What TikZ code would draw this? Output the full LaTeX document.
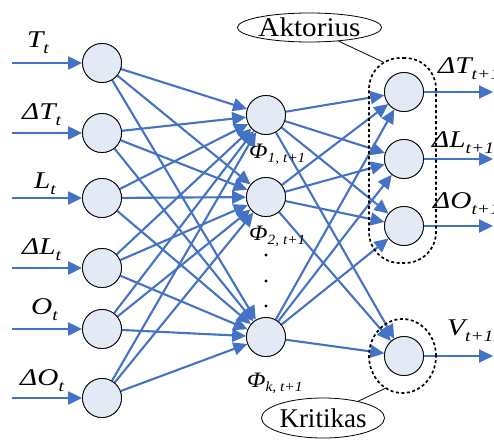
\documentclass[tikz,border=0pt]{standalone}
\usepackage{fontspec}
\setmainfont{Liberation Serif}
\usetikzlibrary{arrows.meta,shapes.geometric}
\definecolor{nnblue}{RGB}{68,114,196}
\definecolor{nnfill}{RGB}{228,234,245}
\newcommand{\sbig}[1]{\raisebox{-6pt}{\fontsize{16}{16}\selectfont #1}}
\newcommand{\ssmall}[1]{\raisebox{-4pt}{\fontsize{14}{14}\selectfont #1}}
\newcommand{\wide}[1]{\scalebox{1.22}[1]{#1}}
\begin{document}
\begin{tikzpicture}[x=1pt,y=-1pt,
  neuron/.style={circle, draw=black, line width=0.8pt, fill=nnfill, minimum size=39pt, inner sep=0pt},
  conn/.style={nnblue, line width=2.1pt, -{Triangle[length=14pt,width=13pt]}},
  lab/.style={anchor=base west, inner sep=0pt, font=\fontsize{24}{26}\selectfont\itshape},
  phil/.style={anchor=base west, inner sep=0pt, font=\fontsize{22}{24}\selectfont\itshape},
  bubble/.style={ellipse, draw=black, line width=0.8pt, inner sep=0pt, font=\fontsize{27}{29}\selectfont},
  grp/.style={draw=black, line width=1.7pt, dash pattern=on 3pt off 2.5pt}]
\useasboundingbox (0,0) rectangle (494,439);

% input layer
\foreach \i/\y in {1/63,2/133,3/198,4/268,5/329,6/398}{
  \node[neuron] (in\i) at (102,\y) {};
  \coordinate (s\i) at (12,\y);
}
% hidden layer
\foreach \j/\y in {1/115,2/197,3/337}{
  \node[neuron] (h\j) at (266,\y) {};
}
% output layer
\foreach \k/\y in {1/92,2/159,3/226,4/356}{
  \node[neuron] (o\k) at (404,\y) {};
  \coordinate (e\k) at (493,\y);
}

% connectors
\foreach \i in {1,...,6}{
  \draw[conn] (s\i) -- (in\i);
  \foreach \j in {1,2,3}{
    \draw[conn] (in\i) -- (h\j);
  }
}
\foreach \j in {1,2,3}{
  \foreach \k in {1,...,4}{
    \draw[conn] (h\j) -- (o\k);
  }
}
\foreach \k in {1,...,4}{
  \draw[conn] (o\k) -- (e\k);
}

% redraw neurons on top
\foreach \i/\y in {1/63,2/133,3/198,4/268,5/329,6/398}{
  \node[neuron] at (102,\y) {};
}
\foreach \j/\y in {1/115,2/197,3/337}{
  \node[neuron] at (266,\y) {};
}
\foreach \k/\y in {1/92,2/159,3/226,4/356}{
  \node[neuron] at (404,\y) {};
}

% groups
\node[grp, rectangle, rounded corners=31pt, minimum width=67pt, minimum height=205pt, inner sep=0pt] (actbox) at (402.5,160.5) {};
\node[grp, ellipse, minimum width=67pt, minimum height=74pt, inner sep=0pt] (critbox) at (402.5,356) {};

% callouts
\node[bubble, minimum width=135pt, minimum height=29pt] (akt) at (309.5,27.5) {\scalebox{1.08}[1]{Aktorius}};
\node[bubble, minimum width=123pt, minimum height=40pt] (krit) at (323,418) {Kritikas};
\coordinate (ak1) at (383,62);
\coordinate (kr1) at (386,388);
\draw[line width=0.8pt] (akt) -- (ak1);
\draw[line width=0.8pt] (krit) -- (kr1);

% input labels
\node[lab] (lt1) at (27,47) {\wide{T\sbig{t}}};
\node[lab] (lt2) at (22,119) {\wide{ΔT\sbig{t}}};
\node[lab] (lt3) at (34,188) {\wide{L\sbig{t}}};
\node[lab] (lt4) at (22,254) {\wide{ΔL\sbig{t}}};
\node[lab] (lt5) at (31,314) {\wide{O\sbig{t}}};
\node[lab] (lt6) at (20,385) {\wide{ΔO\sbig{t}}};

% hidden labels
\node[phil] (ph1) at (249,158) {\scalebox{1.1}[1]{Φ\ssmall{1, t+1}}};
\node[phil] (ph2) at (249,240) {\scalebox{1.1}[1]{Φ\ssmall{2, t+1}}};
\node[phil] (ph3) at (247,387) {\scalebox{1.1}[1]{Φ\ssmall{k, t+1}}};
\fill (266,255) circle (1.7pt);
\fill (266,281) circle (1.7pt);
\fill (266,306) circle (1.7pt);

% output labels
\node[lab] (lo1) at (438,73) {\wide{ΔT\sbig{t+1}}};
\node[lab] (lo2) at (432,147) {\wide{ΔL\sbig{t+1}}};
\node[lab] (lo3) at (433,208) {\wide{ΔO\sbig{t+1}}};
\node[lab] (lo4) at (447,335) {\wide{V\sbig{t+1}}};
\end{tikzpicture}
\end{document}
